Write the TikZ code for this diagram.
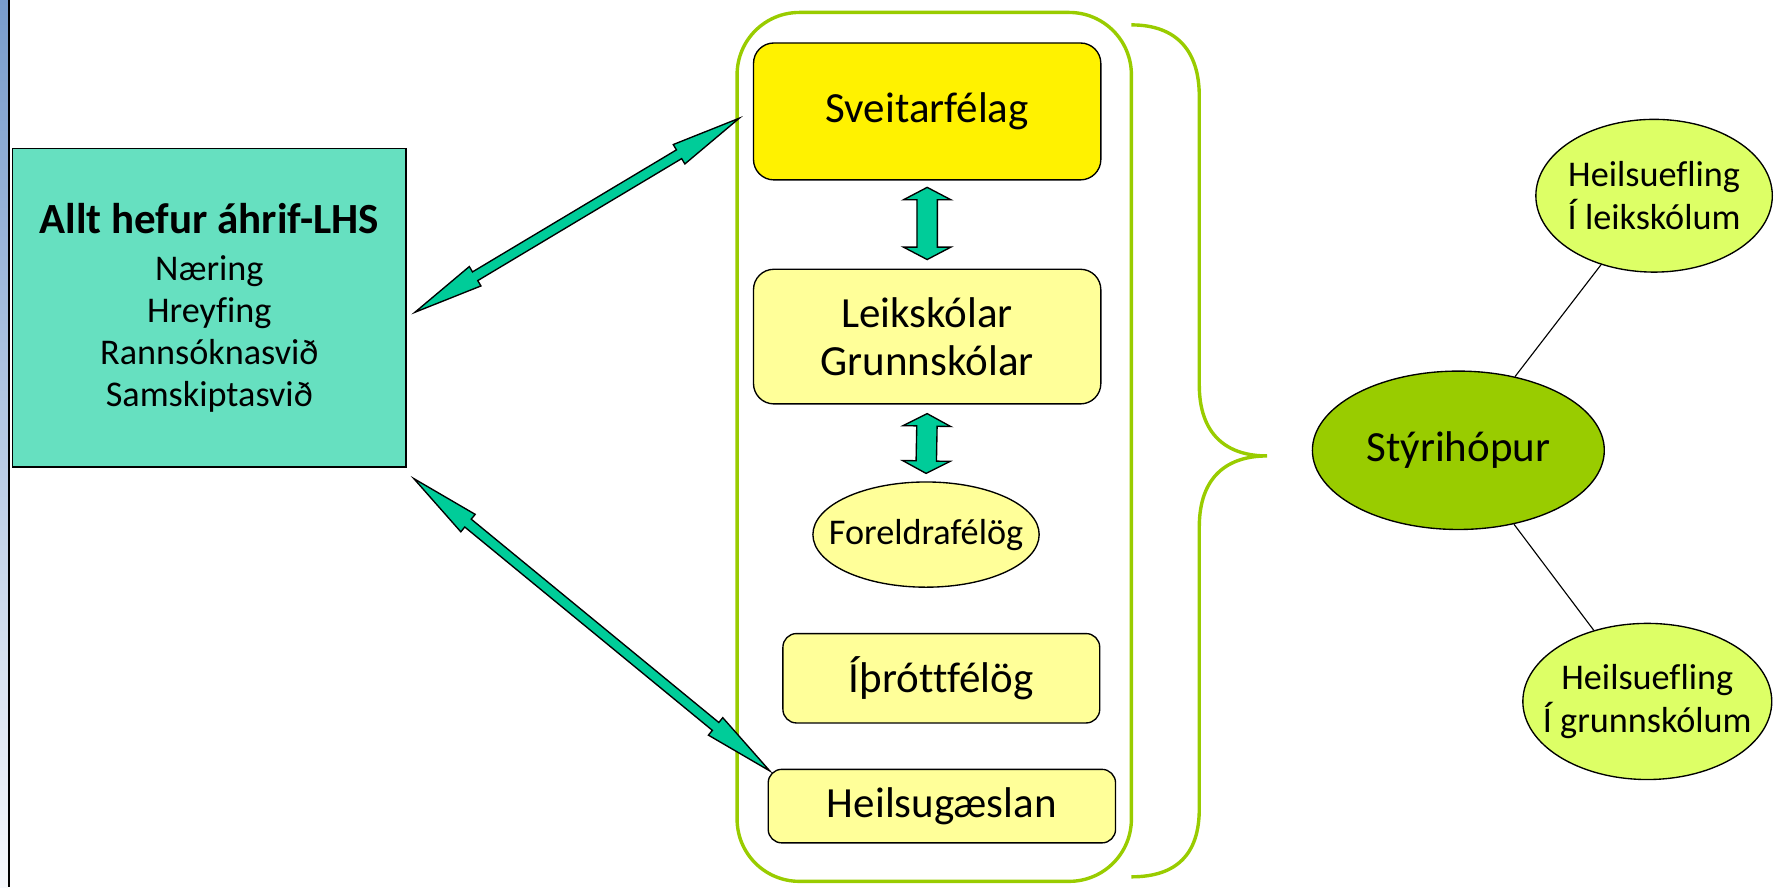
\documentclass[tikz,border=0pt]{standalone}
\usepackage{fontspec}
\setmainfont{Carlito}[Ligatures={NoCommon,NoContextual}, RawFeature={-liga;-clig}]
\usetikzlibrary{shapes.geometric,calc}

\definecolor{tealfill}{RGB}{102,224,192}
\definecolor{arrowfill}{RGB}{0,204,153}
\definecolor{paleyellow}{RGB}{255,255,153}
\definecolor{leafgreen}{RGB}{153,204,0}
\definecolor{limefill}{RGB}{221,255,102}
\definecolor{bartop}{RGB}{120,156,204}
\definecolor{barbottom}{RGB}{246,248,252}

% block arrow with two heads: ends, head length, head half width, shaft half width
\newcommand{\twowayarrow}[5]{%
  \draw[line width=1.2pt, fill=arrowfill, line join=miter]
    (#1) -- ($(#1)!#3!(#2)!#4!90:(#2)$) -- ($(#1)!#3!(#2)!#5!90:(#2)$)
    -- ($(#2)!#3!(#1)!#5!-90:(#1)$) -- ($(#2)!#3!(#1)!#4!-90:(#1)$)
    -- (#2) -- ($(#2)!#3!(#1)!#4!90:(#1)$) -- ($(#2)!#3!(#1)!#5!90:(#1)$)
    -- ($(#1)!#3!(#2)!#5!-90:(#2)$) -- ($(#1)!#3!(#2)!#4!-90:(#2)$) -- cycle;}

\begin{document}
\begin{tikzpicture}[x=1pt,y=-1pt,
    box/.style={draw, line width=1.2pt, rounded corners=18pt, inner sep=0pt, align=center},
    oval/.style={draw, ellipse, line width=1.2pt, inner xsep=-40pt, inner ysep=-20pt, align=center},
    big/.style={font=\fontsize{38}{43}\selectfont},
    small/.style={font=\fontsize{32}{37}\selectfont}]
  \useasboundingbox (0,0) rectangle (1568,784);

  %Shape: side bar
  \shade[top color=bartop, bottom color=barbottom] (0,0) rectangle (7,784);
  \draw[line width=1.5pt] (8,0) -- (8,784);

  %Shape: Rectangle
  \node[draw, line width=1.5pt, fill=tealfill, minimum width=348pt, minimum height=281.5pt,
    inner sep=0pt, align=center, small] (lhs) at (185,272)
    {{\fontsize{38}{42}\selectfont\bfseries Allt hefur áhrif-LHS}\\[5pt]
     Næring\\ Hreyfing\\ Rannsóknasvið\\ Samskiptasvið};

  %Shape: Rounded frame
  \draw[leafgreen, line width=3pt, rounded corners=55pt] (651.5,11) rectangle (1000,779);

  %Shape: Rounded rectangles
  \node[box, fill=yellow, minimum width=307pt, minimum height=121pt, big] (sveit) at (819.5,98.5) {Sveitarfélag};
  \node[box, fill=paleyellow, minimum width=307pt, minimum height=119pt, big] (skolar) at (819.5,297.5) {Leikskólar\\ Grunnskólar};
  \node[oval, fill=paleyellow, minimum width=200pt, minimum height=93pt, small] (foreldr) at (818.5,472.5) {Foreldrafélög};
  \node[box, fill=paleyellow, rounded corners=12pt, minimum width=280pt, minimum height=79pt, big] (ithrott) at (832,599.5) {Íþróttfélög};
  \node[box, fill=paleyellow, rounded corners=12pt, minimum width=307pt, minimum height=65pt, big] (heilsug) at (832.5,712.5) {Heilsugæslan};

  %Shape: Brace
  \draw[leafgreen, line width=3pt]
    (1000,22) .. controls (1040,22) and (1060,45) .. (1060,85) -- (1060,340)
    .. controls (1060,385) and (1085,403) .. (1120,403)
    .. controls (1085,403) and (1060,421) .. (1060,466) -- (1060,715)
    .. controls (1060,755) and (1040,775) .. (1000,775);

  %Shape: Ellipses
  \node[oval, fill=leafgreen, minimum width=258pt, minimum height=140pt, big] (styri) at (1289,398) {Stýrihópur};
  \node[oval, fill=limefill, minimum width=209pt, minimum height=135pt,
    font=\fontsize{32}{38}\selectfont] (hleik) at (1462,173) {Heilsuefling\\ Í leikskólum};
  \node[oval, fill=limefill, minimum width=220pt, minimum height=138pt,
    font=\fontsize{32}{38}\selectfont] (hgrunn) at (1456,620) {Heilsuefling\\ Í grunnskólum};

  \draw[line width=1pt] (styri) -- (hleik);
  \draw[line width=1pt] (styri) -- (hgrunn);

  % Arrows
  \coordinate (upA) at ($(lhs.east)+(7,4)$);
  \coordinate (upB) at ($(sveit.west)+(-12,6)$);
  \coordinate (loA) at ($(lhs.south east)+(6,9.5)$);
  \coordinate (loB) at ($(heilsug.north west)+(2,2)$);
  \twowayarrow{upA}{upB}{62pt}{10pt}{4.5pt}
  \twowayarrow{loA}{loB}{62pt}{10pt}{4.5pt}

  \coordinate (v1) at ($(sveit.south)+(0,6)$);
  \coordinate (v2) at ($(skolar.north)+(0,-8)$);
  \coordinate (v3) at ($(skolar.south)+(0,8)$);
  \coordinate (v4) at ($(foreldr.north)+(0,-7)$);
  \twowayarrow{v1}{v2}{11pt}{21pt}{9pt}
  \twowayarrow{v3}{v4}{11pt}{21pt}{9pt}
\end{tikzpicture}
\end{document}
